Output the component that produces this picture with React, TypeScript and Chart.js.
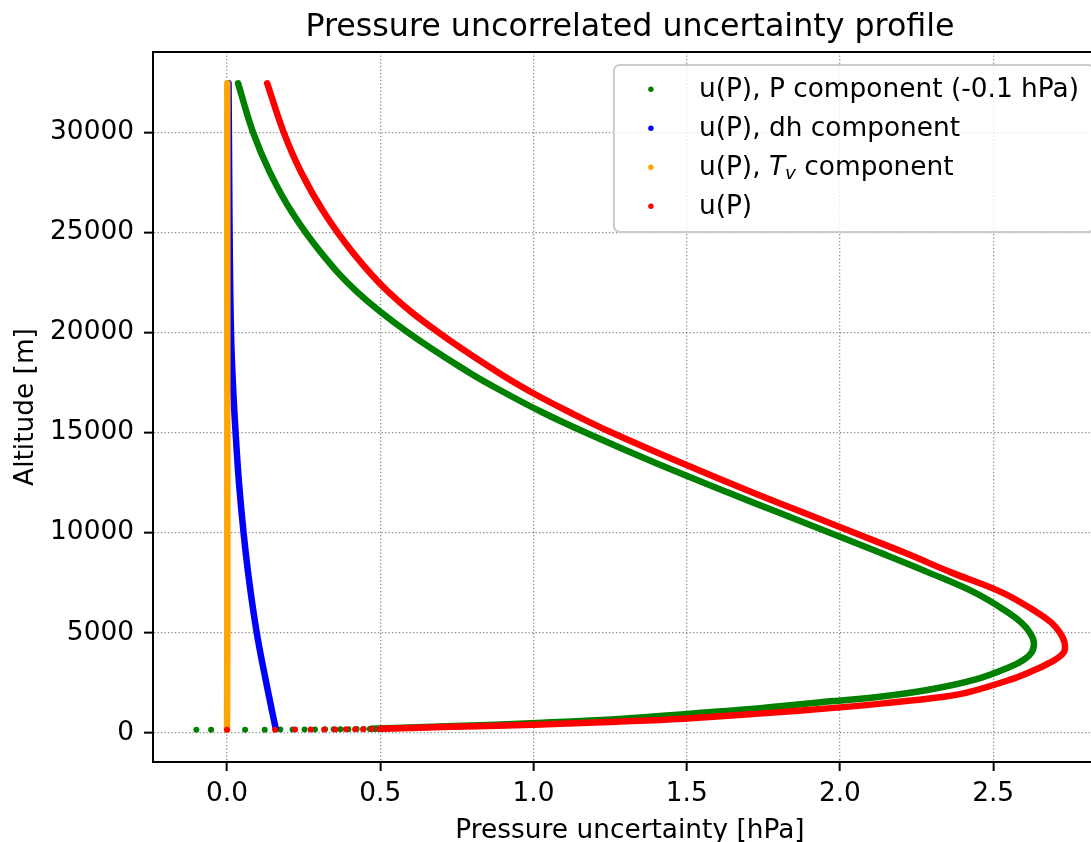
import React, { useEffect, useRef } from 'react';
import { Chart, registerables } from 'chart.js';

Chart.register(...registerables);

const FONT = 'DejaVu Sans';
const titleText = 'Pressure uncorrelated uncertainty profile';
const xLabelText = 'Pressure uncertainty [hPa]';
const yLabelText = 'Altitude [m]';

const xTicks = [0, 0.5, 1.0, 1.5, 2.0, 2.5];
const yTicks = [0, 5000, 10000, 15000, 20000, 25000, 30000];

const seriesLabels = [
  'u(P), P component (-0.1 hPa)',
  'u(P), dh component',
  'u(P), $T_v$ component',
  'u(P)',
];
const seriesColors = ['#008000', '#0000ff', '#ffa500', '#ff0000'];

// P component (green): dense part
const greenAlt = [200, 320, 500, 700, 980, 1230, 1570, 1800, 2150, 2650, 3300, 3650, 4000, 4500, 5000, 5500, 6000, 7000, 8000, 9000, 10000, 11000, 12000, 13500, 15000, 16000, 17000, 18000, 20000, 22000, 24000, 26000, 28000, 30000, 32450];
const greenU = [0.47, 0.72, 1.03, 1.29, 1.53, 1.74, 1.97, 2.13, 2.29, 2.44, 2.556, 2.60, 2.625, 2.633, 2.62, 2.592, 2.55, 2.44, 2.29, 2.13, 1.965, 1.80, 1.635, 1.395, 1.17, 1.03, 0.905, 0.79, 0.59, 0.426, 0.306, 0.212, 0.14, 0.085, 0.036];
// P component: sparse points near the ground
const greenGroundAlt = [150, 150, 152, 155, 158, 160, 163, 166, 170, 173, 176, 180, 184, 188, 192];
const greenGroundU = [-0.100, -0.052, 0.059, 0.123, 0.174, 0.214, 0.253, 0.287, 0.320, 0.348, 0.370, 0.396, 0.423, 0.446, 0.466];

// dh component (blue)
const blueAlt = [200, 2500, 5000, 7500, 10000, 12500, 15000, 17500, 20000, 24000, 28000, 32450];
const blueU = [0.159, 0.128, 0.097, 0.073, 0.054, 0.039, 0.028, 0.019, 0.013, 0.009, 0.007, 0.005];

// Tv component (orange)
const orangeAlt = [150, 5000, 15000, 25000, 32450];
const orangeU = [0.000, 0.001, 0.001, 0.001, 0.001];

// total u(P) (red): dense part
const redAlt = [195, 285, 400, 550, 700, 980, 1230, 1480, 1800, 2000, 2650, 3000, 3500, 4000, 4500, 5000, 5500, 6000, 7000, 8000, 9000, 10000, 11000, 12000, 13500, 15000, 16000, 17000, 18000, 20000, 22000, 24000, 26000, 28000, 30000, 32450];
const redU = [0.50, 0.70, 1.00, 1.27, 1.49, 1.76, 1.97, 2.15, 2.34, 2.414, 2.556, 2.615, 2.685, 2.73, 2.733, 2.718, 2.69, 2.645, 2.53, 2.365, 2.21, 2.045, 1.88, 1.715, 1.48, 1.255, 1.12, 0.995, 0.885, 0.69, 0.528, 0.41, 0.316, 0.242, 0.185, 0.131];
// total: sparse points near the ground
const redGroundAlt = [150, 152, 156, 160, 164, 168, 172, 176, 180, 185, 190];
const redGroundU = [0.000, 0.157, 0.222, 0.273, 0.317, 0.353, 0.388, 0.418, 0.444, 0.472, 0.497];

const zip = (u: number[], a: number[]) => u.map((v, i) => ({ x: v, y: a[i] }));

export default function App() {
  const ref = useRef<HTMLCanvasElement>(null);

  useEffect(() => {
    const canvas = ref.current!;

    const drawRich = (ctx: CanvasRenderingContext2D, text: string, x: number, y: number, size: number) => {
      const parts = text.split(/(\$[^$]+\$)/);
      let cx = x;
      for (const p of parts) {
        if (!p) continue;
        if (p.startsWith('$')) {
          const m = p.slice(1, -1);
          const [base, sub] = m.split('_');
          ctx.font = `italic ${size}px "${FONT}"`;
          ctx.fillText(base, cx, y);
          cx += ctx.measureText(base).width;
          if (sub) {
            const ss = size * 0.7;
            ctx.font = `italic ${ss}px "${FONT}"`;
            ctx.fillText(sub, cx, y + size * 0.16);
            cx += ctx.measureText(sub).width;
          }
        } else {
          ctx.font = `${size}px "${FONT}"`;
          ctx.fillText(p, cx, y);
          cx += ctx.measureText(p).width;
        }
      }
      return cx - x;
    };

    const decor = {
      id: 'decor',
      afterDraw(chart: any) {
        const ctx: CanvasRenderingContext2D = chart.ctx;
        const a = chart.chartArea;
        ctx.save();
        ctx.strokeStyle = '#000';
        ctx.lineWidth = 2;
        ctx.beginPath();
        ctx.moveTo(a.left - 1, a.top);
        ctx.lineTo(a.right + 1, a.top);
        ctx.moveTo(a.right, a.top);
        ctx.lineTo(a.right, a.bottom);
        ctx.stroke();

        ctx.fillStyle = '#000';
        ctx.textBaseline = 'alphabetic';
        ctx.textAlign = 'center';
        ctx.font = `31.7px "${FONT}"`;
        ctx.fillText(titleText, (a.left + a.right) / 2, 36);
        ctx.font = `26.4px "${FONT}"`;
        ctx.fillText(xLabelText, (a.left + a.right) / 2, 837.5);
        ctx.save();
        ctx.translate(33.3, (a.top + a.bottom) / 2);
        ctx.rotate(-Math.PI / 2);
        ctx.fillText(yLabelText, 0, 0);
        ctx.restore();

        // legend
        ctx.textAlign = 'left';
        const size = 26.4;
        ctx.font = `${size}px "${FONT}"`;
        let maxW = 0;
        for (const l of seriesLabels) {
          const w = ctx.measureText(l.replace(/\$/g, '').replace('_', '')).width;
          if (w > maxW) maxW = w;
        }
        const boxRight = a.right - 13;
        const boxLeft = boxRight - (maxW + 87 + 13);
        const boxTop = a.top + 13;
        const boxBottom = boxTop + 167;
        ctx.beginPath();
        ctx.roundRect(boxLeft, boxTop, boxRight - boxLeft, boxBottom - boxTop, 6);
        ctx.fillStyle = 'rgba(255,255,255,0.8)';
        ctx.fill();
        ctx.strokeStyle = '#cccccc';
        ctx.lineWidth = 2;
        ctx.stroke();
        const ds = chart.data.datasets;
        for (let i = 0; i < 4; i++) {
          const base = boxTop + 31.7 + i * 39;
          ctx.fillStyle = ds[i].borderColor;
          ctx.beginPath();
          ctx.arc(boxLeft + 37, base - 7.4, 2.7, 0, Math.PI * 2);
          ctx.fill();
          ctx.fillStyle = '#000';
          drawRich(ctx, ds[i].label, boxLeft + 85, base, size);
        }
        ctx.restore();
      },
    };

    const gridOpts = {
      color: 'rgba(0,0,0,0.45)',
      lineWidth: 1.3,
      tickColor: '#000',
      tickWidth: 2,
      tickLength: 9,
    };
    const borderOpts = { color: '#000', width: 2, dash: [1.3, 2.2] };
    const tickFont = { family: FONT, size: 26.4 };

    const curve = (label: string, u: number[], alt: number[], color: string, order: number) => ({
      label,
      data: zip(u, alt),
      showLine: true,
      pointRadius: 0,
      borderColor: color,
      backgroundColor: color,
      borderWidth: 6.5,
      tension: 0.4,
      borderCapStyle: 'round',
      borderJoinStyle: 'round',
      order,
    });
    const dots = (label: string, u: number[], alt: number[], color: string, order: number) => ({
      label,
      data: zip(u, alt),
      showLine: false,
      pointRadius: 3,
      pointBorderWidth: 0,
      borderColor: color,
      backgroundColor: color,
      order,
    });

    const chart = new Chart(canvas, {
      type: 'scatter',
      data: {
        datasets: [
          curve(seriesLabels[0], greenU, greenAlt, seriesColors[0], 8),
          curve(seriesLabels[1], blueU, blueAlt, seriesColors[1], 6),
          curve(seriesLabels[2], orangeU, orangeAlt, seriesColors[2], 4),
          curve(seriesLabels[3], redU, redAlt, seriesColors[3], 2),
          dots('ground P', greenGroundU, greenGroundAlt, seriesColors[0], 7),
          dots('ground total', redGroundU, redGroundAlt, seriesColors[3], 1),
        ] as any,
      },
      plugins: [decor],
      options: {
        animation: false,
        responsive: false,
        devicePixelRatio: 1,
        events: [],
        layout: { padding: { top: 52, right: 13, left: 0, bottom: 0 } },
        plugins: { legend: { display: false }, tooltip: { enabled: false }, title: { display: false } },
        scales: {
          x: {
            type: 'linear',
            min: -0.2415,
            max: 2.8715,
            afterBuildTicks: (s: any) => { s.ticks = xTicks.map((v) => ({ value: v })); },
            afterFit: (s: any) => { s.height = 80; },
            ticks: {
              font: tickFont,
              color: '#000',
              padding: 7,
              maxRotation: 0,
              autoSkip: false,
              callback: (v: any) => Number(v).toFixed(1),
            },
            grid: gridOpts,
            border: borderOpts,
          },
          y: {
            type: 'linear',
            min: -1462,
            max: 34012,
            afterBuildTicks: (s: any) => { s.ticks = yTicks.map((v) => ({ value: v })); },
            afterFit: (s: any) => { s.width = 153; },
            ticks: {
              font: tickFont,
              color: '#000',
              padding: 10,
              autoSkip: false,
              callback: (v: any) => String(v),
            },
            grid: gridOpts,
            border: borderOpts,
          },
        },
      } as any,
    });
    return () => chart.destroy();
  }, []);

  return (
    <div style={{ position: 'absolute', left: 0, top: 0, width: 1091, height: 842, overflow: 'hidden', background: '#fff' }}>
      <canvas ref={ref} width={1120} height={842} style={{ display: 'block' }} />
    </div>
  );
}
